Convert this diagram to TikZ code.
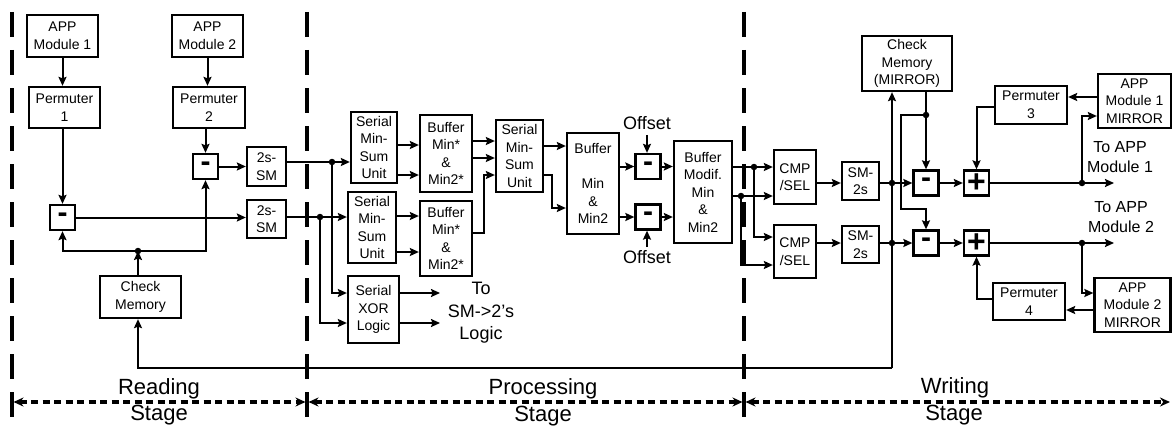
\documentclass[tikz,border=0pt]{standalone}
\usepackage{fontspec}
\setmainfont{Liberation Sans}
\usetikzlibrary{arrows.meta,calc}
\begin{document}
\begin{tikzpicture}[x=1pt,y=-1pt,
  blk/.style={draw,line width=2.3pt,align=center,inner sep=0pt,font=\fontsize{14}{17.5}\selectfont},
  opb/.style={draw,line width=2.3pt,minimum size=25pt,inner sep=0pt,font=\fontsize{30}{30}\selectfont\bfseries},
  plb/.style={opb,font=\fontsize{32}{32}\selectfont\bfseries},
  con/.style={line width=2pt,-{Stealth[length=9pt,width=8pt,inset=1.5pt]}},
  ln/.style={line width=2pt},
  dot/.style={circle,fill,inner sep=0pt,minimum size=6.5pt},
  lbl/.style={align=center,inner sep=0pt},
  stagesep/.style={line width=3.3pt,dash pattern=on 25pt off 13pt},
  span/.style={line width=3.2pt,dash pattern=on 7pt off 4.5pt,{Stealth[length=10pt,width=9pt]}-{Stealth[length=10pt,width=9pt]}},
  stagetxt/.style={lbl,font=\fontsize{22}{22}\selectfont}
]
\useasboundingbox (0,0) rectangle (1172,428);

% row coordinates
\foreach \r in {97,107,116,141,145,146,158,162,175,183,208,209,216,217,233,237,243,252,265,293,299,310,323}
  {\coordinate (r\r) at (0,\r);}

% stage separators
\coordinate (sepA) at (12,12);
\coordinate (sepB) at (307,12);
\coordinate (sepC) at (744,12);
\draw[stagesep] (sepA) -- ++(0,405);
\draw[stagesep] (sepB) -- ++(0,405);
\draw[stagesep] (sepC) -- ++(0,405);

% ---------------- Reading stage
\node[blk,minimum width=71pt,minimum height=42pt] (app1) at (62.5,36) {APP\\Module 1};
\node[blk,minimum width=71pt,minimum height=42pt] (app2) at (207.5,36) {APP\\Module 2};
\node[blk,minimum width=71pt,minimum height=41pt] (perm1) at (64.5,107.5) {Permuter\\1};
\node[blk,minimum width=72pt,minimum height=41pt] (perm2) at (209,107.5) {Permuter\\2};
\node[opb] (s1) at (205.5,166.5) {-};
\node[blk,minimum width=39pt,minimum height=39pt] (tsm1) at (266.5,166.5) {2s-\\SM};
\node[opb] (s2) at (62.5,217.5) {-};
\node[blk,minimum width=39pt,minimum height=38pt] (tsm2) at (266.5,219) {2s-\\SM};
\node[blk,minimum width=81pt,minimum height=42pt] (chk) at (140.5,297) {Check\\Memory};

\draw[con] (app1.south) -- (app1.south |- perm1.north);
\draw[con] (app2.south) -- (app2.south |- perm2.north);
\draw[con] (s2.north |- perm1.south) -- (s2.north);
\draw[con] (s1.north |- perm2.south) -- (s1.north);
\draw[con] (s1.east) -- (tsm1.west);
\draw[con] (s2.east) -- (s2.east -| tsm2.west);
\coordinate (j0) at (138,251);
\draw[con] (chk.north -| j0) -- (j0);
\draw[con] (j0) -| (s2.south);
\draw[con] (j0) -| (s1.south);
\node[dot] at (j0) {};

% ---------------- Processing stage
\node[blk,minimum width=46pt,minimum height=71pt] (sms1) at (374,147.5) {Serial\\Min-\\Sum\\Unit};
\node[blk,minimum width=52pt,minimum height=77pt] (buf1) at (446,153.5) {Buffer\\Min*\\\&\\Min2*};
\node[blk,minimum width=48pt,minimum height=71pt] (sms2) at (372,227.5) {Serial\\Min-\\Sum\\Unit};
\node[blk,minimum width=52pt,minimum height=75pt] (buf2) at (446,238.5) {Buffer\\Min*\\\&\\Min2*};
\node[blk,minimum width=47pt,minimum height=72pt] (sms3) at (519.5,156) {Serial\\Min-\\Sum\\Unit};
\node[blk,minimum width=51pt,minimum height=67pt] (xor) at (373.5,309.5) {Serial\\XOR\\Logic};
\node[blk,minimum width=52pt,minimum height=101pt] (bufmm) at (593,183.5) {Buffer\\\mbox{}\\Min\\\&\\Min2};
\node[opb] (o1) at (648,166.5) {-};
\node[opb] (o2) at (648,217) {-};
\node[blk,minimum width=58pt,minimum height=102pt] (bufmod) at (703,192) {Buffer\\Modif.\\Min\\\&\\Min2};

\coordinate (ja) at (332,162);
\coordinate (jb) at (320,217);
\draw[con] (tsm1.east |- r162) -- (sms1.west |- r162);
\draw[con] (ja) |- (xor.west |- r293);
\node[dot] at (ja) {};
\draw[con] (tsm2.east |- r217) -- (sms2.west |- r217);
\draw[con] (jb) |- (xor.west |- r323);
\node[dot] at (jb) {};

\draw[con] (sms1.east |- r145) -- (buf1.west |- r145);
\draw[con] (sms1.east |- r175) -- (buf1.west |- r175);
\draw[con] (sms2.east |- r216) -- (buf2.west |- r216);
\draw[con] (sms2.east |- r252) -- (buf2.west |- r252);
\draw[con] (buf1.east |- r141) -- (sms3.west |- r141);
\draw[con] (buf1.east |- r158) -- (sms3.west |- r158);
\draw[con] (buf2.east |- r233) -- ++(11,0) |- (sms3.west |- r175);

\coordinate (xo1) at (440,293);
\coordinate (xo2) at (440,323);
\draw[con] (xor.east |- xo1) -- (xo1);
\draw[con] (xor.east |- xo2) -- (xo2);
\node[lbl,font=\fontsize{18}{22.5}\selectfont] (tologic) at (481,313) {To\\SM->2's\\Logic};

\draw[con] (sms3.east |- r146) -- (bufmm.west |- r146);
\draw[con] (sms3.east |- r175) -- ++(8,0) |- (bufmm.west |- r208);
\draw[con] (bufmm.east |- o1) -- (o1.west);
\draw[con] (bufmm.east |- o2) -- (o2.west);
\node[lbl,font=\fontsize{18}{18}\selectfont] (offt) at (647,123) {Offset};
\node[lbl,font=\fontsize{18}{18}\selectfont] (offb) at (647,257) {Offset};
\draw[con,shorten <=5pt] (offt.south) -- (offt.south |- o1.north);
\draw[con,shorten <=3pt] (offb.north) -- (offb.north |- o2.south);
\draw[con] (o1.east) -- (o1.east -| bufmod.west);
\draw[con] (o2.east) -- (o2.east -| bufmod.west);

% ---------------- Writing stage
\node[blk,minimum width=42pt,minimum height=54pt] (cmp1) at (795,177) {CMP\\/SEL};
\node[blk,minimum width=42pt,minimum height=53pt] (cmp2) at (795,251.5) {CMP\\/SEL};
\node[blk,minimum width=37pt,minimum height=38pt] (smb1) at (860.5,181) {SM-\\2s};
\node[blk,minimum width=37pt,minimum height=37pt] (smb2) at (860.5,244.5) {SM-\\2s};
\node[blk,minimum width=90pt,minimum height=55pt] (cmm) at (907,63.5) {Check\\Memory\\(MIRROR)};
\node[opb] (w1) at (926,183) {-};
\node[opb] (w2) at (926,243) {-};
\node[plb] (p1) at (976.5,183) {+};
\node[plb] (p2) at (976.5,243) {+};
\node[blk,minimum width=72pt,minimum height=38pt] (perm3) at (1031,105) {Permuter\\3};
\node[blk,minimum width=73pt,minimum height=54pt] (mir1) at (1134.5,101) {APP\\Module 1\\MIRROR};
\node[blk,minimum width=72pt,minimum height=37pt] (perm4) at (1029,301.5) {Permuter\\4};
\node[blk,minimum width=76pt,minimum height=54pt] (mir2) at (1132.5,305) {APP\\Module 2\\MIRROR};

\coordinate (jc) at (754,167);
\coordinate (jd) at (741,196);
\draw[con] (bufmod.east |- jc) -- (cmp1.west |- jc);
\draw[con] (jc) |- (cmp2.west |- r237);
\draw[con] (bufmod.east |- jd) -- (cmp1.west |- jd);
\draw[con] (jd) |- (cmp2.west |- r265);
\node[dot] at (jc) {};
\node[dot] at (jd) {};

\draw[con] (cmp1.east |- r183) -- (smb1.west |- r183);
\draw[con] (cmp2.east |- r243) -- (smb2.west |- r243);

\coordinate (fb) at (892,368);
\coordinate (je) at (892,183);
\coordinate (jf) at (892,243);
\draw[con] (fb) -| (chk.south -| j0);
\draw[con] (fb) -- (fb |- cmm.south);
\draw[con] (smb1.east |- je) -- (w1.west);
\draw[con] (smb2.east |- jf) -- (w2.west);
\node[dot] at (je) {};
\node[dot] at (jf) {};

\coordinate (jg) at (926,115);
\draw[con] (cmm.south -| jg) -- (w1.north);
\draw[con] (jg) -- ++(-25,0) |- (w2.north |- r209) -- (w2.north);
\node[dot] at (jg) {};

\draw[con] (w1.east) -- (p1.west);
\draw[con] (w2.east) -- (p2.west);
\draw[con] (perm3.west |- r107) -| (p1.north);
\draw[con] (mir1.west |- r97) -- (perm3.east |- r97);
\draw[con] (perm4.west |- r299) -| (p2.south);
\draw[con] (mir2.west |- r310) -- (perm4.east |- r310);

\coordinate (out1) at (1114,183);
\coordinate (out2) at (1114,243);
\coordinate (jh) at (1082,183);
\coordinate (ji) at (1082,243);
\draw[con] (p1.east) -- (out1);
\draw[con] (p2.east) -- (out2);
\draw[con] (jh) |- (mir1.west |- r116);
\draw[con] (ji) |- (mir2.west |- r293);
\node[dot] at (jh) {};
\node[dot] at (ji) {};
\node[lbl,font=\fontsize{16}{20}\selectfont] (to1) at (1120,157) {To APP\\Module 1};
\node[lbl,font=\fontsize{16}{20}\selectfont] (to2) at (1121,217) {To APP\\Module 2};

% ---------------- stage spans
\coordinate (spA) at (13.5,402);
\coordinate (spB1) at (305.5,402);
\coordinate (spB2) at (308.5,402);
\coordinate (spC1) at (742.5,402);
\coordinate (spC2) at (745.5,402);
\coordinate (spD) at (1170,402);
\draw[span] (spA) -- (spB1);
\draw[span] (spB2) -- (spC1);
\draw[span] (spC2) -- (spD);
\node[stagetxt] at (159,389) {Reading};
\node[stagetxt] at (159,415) {Stage};
\node[stagetxt] at (543,389) {Processing};
\node[stagetxt] at (543,416) {Stage};
\node[stagetxt] at (955,388) {Writing};
\node[stagetxt] at (954,415) {Stage};
\end{tikzpicture}
\end{document}
